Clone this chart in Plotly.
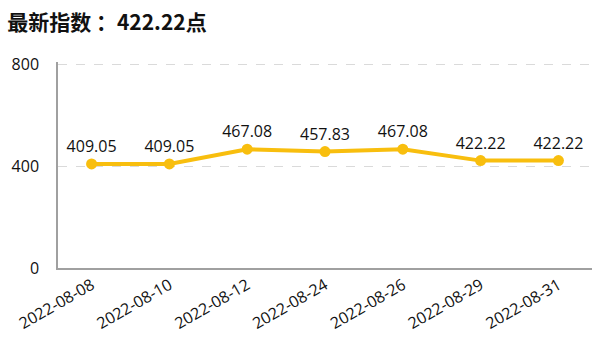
import plotly.graph_objects as go

dates = ["2022-08-08", "2022-08-10", "2022-08-12", "2022-08-24", "2022-08-26", "2022-08-29", "2022-08-31"]
values = [409.05, 409.05, 467.08, 457.83, 467.08, 422.22, 422.22]
labels = ["409.05", "409.05", "467.08", "457.83", "467.08", "422.22", "422.22"]
y_ticks = [0, 400, 800]
title_text = "<b>最新指数 ：422.22点</b>"

color = "#F8BE0E"

fig = go.Figure()
fig.add_trace(go.Scatter(
    x=dates, y=values, mode="lines+markers+text",
    text=labels, textposition="top center",
    textfont=dict(size=16, color="#111111", family="Open Sans"),
    line=dict(color=color, width=4),
    marker=dict(color=color, size=11),
    cliponaxis=False,
    hoverinfo="skip",
))

fig.update_layout(
    width=600, height=354,
    margin=dict(l=58, r=8, t=62, b=86),
    paper_bgcolor="white", plot_bgcolor="white",
    showlegend=False,
    font=dict(family="Open Sans", color="#111111"),
    title=dict(text=title_text, x=0.012, xanchor="left", y=0.935, yanchor="middle",
               font=dict(size=21, family="Noto Sans CJK SC", color="#111111")),
)
fig.update_xaxes(
    type="category", showline=True, linecolor="#A0A0A0", linewidth=1.5,
    showgrid=False, ticks="", tickangle=-30, tickfont=dict(size=16, color="#111111"),
)
fig.update_yaxes(
    range=[0, 810], tickvals=y_ticks, showline=True, linecolor="#A0A0A0", linewidth=1.5,
    showgrid=True, gridcolor="#DADADA", griddash="dash", gridwidth=1,
    zeroline=False, tickfont=dict(size=16, color="#111111"), ticks="",
    ticklabelstandoff=14,
)
fig.write_html("out.html")
